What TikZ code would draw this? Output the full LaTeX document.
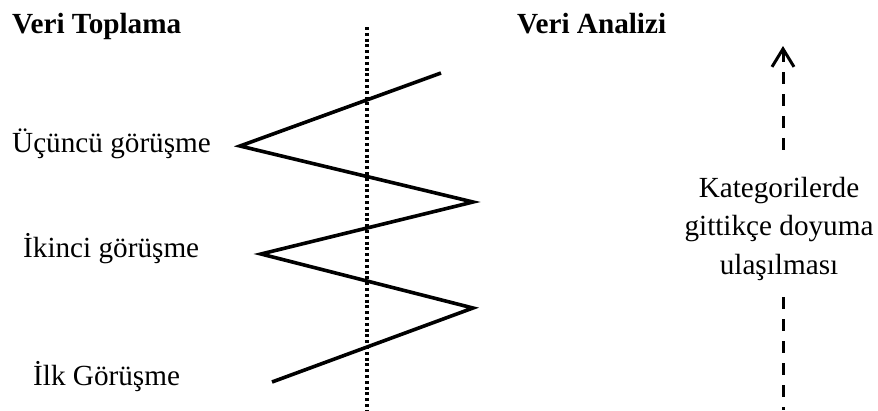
\documentclass[tikz,border=0pt]{standalone}
\usepackage{fontspec}
\setmainfont{Liberation Serif}
\usetikzlibrary{arrows.meta}
\begin{document}
\begin{tikzpicture}[x=1pt,y=-1pt,
  lbl/.style={anchor=base west,inner sep=0pt,font=\fontsize{29.2}{38.3}\selectfont},
  head/.style={lbl,font=\fontsize{29.2}{38.3}\selectfont\bfseries},
  zig/.style={line width=3.6pt,line join=miter},
  dotline/.style={line width=3.3pt,dash pattern=on 3pt off 2.8pt},
  dashline/.style={line width=3pt,dash pattern=on 12pt off 10pt},
  barb/.style={line width=3pt}]
\useasboundingbox (0,0) rectangle (878,410);
\node[head] (h1) at (12,33) {Veri Toplama};
\node[head] (h2) at (517,33) {Veri Analizi};
\node[lbl] (l3) at (12,152) {Üçüncü görüşme};
\node[lbl] (l2) at (23,257) {İkinci görüşme};
\node[lbl] (l1) at (33,385) {İlk Görüşme};
\node[anchor=north,inner sep=0pt,align=center,font=\fontsize{29.2}{38.3}\selectfont] (txt) at (779,177)
  {Kategorilerde\\gittikçe doyuma\\ulaşılması};
% dotted divider
\coordinate (dtop) at (367,27);
\coordinate (dbot) at (367,410);
\draw[dotline] (dtop) -- (dbot);
% zigzag
\coordinate (z0) at (272,382);
\coordinate (z1) at (473,308);
\coordinate (z2) at (261,254);
\coordinate (z3) at (473,202);
\coordinate (z4) at (240,146);
\coordinate (z5) at (441,73);
\draw[zig] (z0) -- (z1) -- (z2) -- (z3) -- (z4) -- (z5);
% dashed arrow
\coordinate (atip) at (783,46);
\coordinate (abot) at (783,158);
\coordinate (btop) at (783,297);
\coordinate (bbot) at (783,410);
\draw[dashline,{Straight Barb[length=18pt,width=22pt,line width=3pt]}-] (atip) -- (abot);
\draw[dashline] (btop) -- (bbot);
\end{tikzpicture}
\end{document}
